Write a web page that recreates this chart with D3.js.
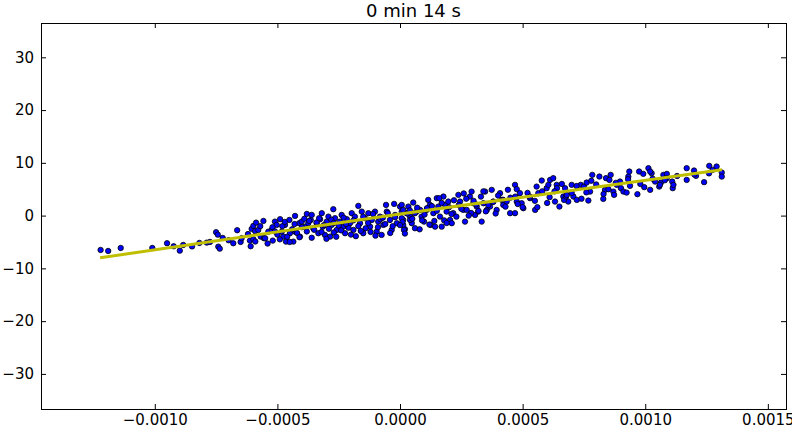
<!DOCTYPE html>
<html><head><meta charset="utf-8">
<script src="https://cdn.jsdelivr.net/npm/d3@7"></script>
<style>body{margin:0;background:#fff}svg{display:block}text{font-family:"DejaVu Sans",sans-serif}</style>
</head><body><svg id="c" width="792" height="432"></svg>
<script>
const title = "0 min 14 s";
const xTicks = [-0.0010, -0.0005, 0.0000, 0.0005, 0.0010, 0.0015];
const yTicks = [-30, -20, -10, 0, 10, 20, 30];
const lineX = [-0.001223, 0.000000, 0.001313];
const lineY = [-8.0, 0.3, 8.7];
const xs = [
-0.001221,-0.001190,-0.001139,-0.001010,-0.000950,-0.000923,-0.000898,-0.000884,-0.000848,-0.000818,
-0.000788,-0.000775,-0.000750,-0.000743,-0.000741,-0.000735,-0.000723,-0.000699,-0.000680,-0.000664,
-0.000650,-0.000646,-0.000612,-0.000609,-0.000605,-0.000598,-0.000587,-0.000591,-0.000578,-0.000598,
-0.000568,-0.000557,-0.000555,-0.000537,-0.000523,-0.000519,-0.000510,-0.000503,-0.000489,-0.000482,
-0.000476,-0.000469,-0.000465,-0.000451,-0.000449,-0.000435,-0.000428,-0.000428,-0.000411,-0.000408,
-0.000401,-0.000387,-0.000380,-0.000374,-0.000364,-0.000360,-0.000354,-0.000340,-0.000333,-0.000326,
-0.000319,-0.000315,-0.000306,-0.000299,-0.000292,-0.000285,-0.000279,-0.000272,-0.000265,-0.000258,
-0.000245,-0.000238,-0.000231,-0.000224,-0.000217,-0.000204,-0.000197,-0.000190,-0.000184,-0.000170,
-0.000163,-0.000156,-0.000150,-0.000143,-0.000129,-0.000122,-0.000115,-0.000102,-0.000095,-0.000089,
-0.000082,-0.000075,-0.000068,-0.000057,-0.000054,-0.000041,-0.000034,-0.000024,-0.000020,-0.000013,
0.000000,0.000007,0.000013,0.000020,0.000027,0.000034,0.000041,0.000048,0.000054,0.000061,
0.000068,0.000007,0.000013,0.000007,0.000013,0.000016,0.000041,0.000061,0.000082,0.000088,
0.000098,0.000109,0.000115,0.000122,0.000125,0.000136,0.000143,0.000150,0.000156,0.000163,
0.000170,0.000177,0.000184,0.000190,0.000197,0.000204,0.000211,0.000217,0.000238,0.000245,
0.000258,0.000265,0.000272,0.000285,0.000292,0.000299,0.000306,0.000313,0.000319,0.000333,
0.000340,0.000347,0.000354,0.000367,0.000374,0.000380,0.000394,0.000408,0.000415,0.000421,
0.000435,0.000449,0.000469,0.000476,0.000476,0.000469,0.000489,0.000496,0.000503,0.000530,
0.000551,0.000557,0.000564,0.000578,0.000598,0.000605,0.000612,0.000625,0.000632,0.000639,
0.000650,0.000666,0.000673,0.000686,0.000700,0.000707,0.000721,0.000669,0.000677,0.000737,
0.000750,0.000761,0.000768,0.000775,0.000784,0.000813,0.000829,0.000836,0.000840,0.000854,
0.000859,0.000870,0.000873,0.000884,0.000897,0.000901,0.000911,0.000924,0.000931,0.000935,
0.000938,0.000968,0.000975,0.000992,0.000996,0.001013,0.001020,0.001026,0.001040,0.001057,
0.001064,0.001074,0.001088,0.001088,0.001110,0.001112,0.001115,0.001169,0.001169,0.001199,
0.001207,0.001240,0.001261,0.001275,0.001291,0.001312,0.001312,0.001020,0.001060,
-0.00055,-0.00052,-0.00050,-0.00048,-0.00046,-0.00044,-0.00042,-0.00040,-0.00038,-0.00037,
-0.00035,-0.00034,-0.00032,-0.00031,-0.00029,-0.00028,-0.00027,-0.00025,-0.00024,-0.00023,
-0.00021,-0.00020,-0.00019,-0.00017,-0.00016,-0.00015,-0.00013,-0.00012,-0.00011,-0.00009,
-0.00008,-0.00006,-0.00005,-0.00003,-0.00002,0.00001,0.00003,0.00005,0.00007,0.00009,
0.00010,0.00012,0.00013,0.00015,0.00017,0.00018,0.00020,0.00022,0.00023,0.00025,
0.00027,0.00029,0.00031,0.00033,0.00035,0.00038,0.00040,0.00043,0.00045,0.00048,
0.00052,0.00055,0.00058,0.00061,0.00064,0.00068,0.00072,0.00076,0.00080,0.00085,
-0.00062,-0.00059,-0.00057,-0.00054,-0.00051,-0.00049,-0.00047,-0.00045,-0.00043,-0.00041,
-0.00039,-0.00036,-0.00033,-0.00030,-0.00027,-0.00026,-0.00022,-0.00018,-0.00014,-0.00010,
-0.00007,-0.00004,0.00000,0.00002,0.00004,0.00008,0.00011,0.00014,0.00016,0.00019,
0.00021,0.00024,0.00026,0.00028,0.00030,0.00032,0.00034,0.00036,0.00039,0.00042,
0.00044,0.00047,0.00050,0.00053,0.00056,0.00060,0.00063,0.00066,0.00070,0.00074,
0.00078,0.00083,0.00088,0.00093,0.00098,0.00103,0.00108,0.00113,0.00120,0.00126
];
const ys = [
-6.51,-6.70,-6.13,-6.13,-5.24,-5.81,-6.64,-5.56,-5.84,-5.18,
-5.12,-4.99,-3.15,-3.61,-5.88,-6.26,-4.23,-4.67,-5.24,-2.77,
-4.99,-4.29,-4.74,-5.81,-2.52,-1.95,-1.33,-2.96,-2.71,-4.48,
-3.98,-1.01,-4.29,-3.04,-2.71,-4.74,-1.14,-1.76,-0.68,-3.04,
-3.98,-1.76,-4.93,-0.82,-3.34,-4.93,-0.06,-3.04,-1.44,-3.98,
-1.14,-2.09,0.32,-1.44,-0.82,0.13,-2.39,-1.44,-3.34,-0.68,
0.46,-2.09,-3.66,-1.14,-0.19,-3.98,-1.76,1.21,-0.49,-2.71,
-1.14,0.13,-2.09,-3.34,-0.68,-1.44,0.46,-2.71,-0.19,1.84,
-1.44,0.76,-3.34,-0.49,0.46,-2.09,-0.82,0.76,-3.04,-1.14,
-0.19,-3.66,-1.76,2.03,0.76,-0.82,-2.71,2.22,0.13,-1.44,
1.71,0.76,-0.82,-2.58,0.46,1.71,-0.19,-1.44,2.47,-2.39,
0.76,2.03,1.08,-0.49,-1.76,-2.71,-0.82,0.46,1.08,-0.19,
-1.14,1.08,2.98,2.03,-1.76,0.46,-2.09,3.30,1.71,-0.19,
-2.09,3.61,2.03,0.76,2.66,-0.82,-1.44,0.46,3.93,2.66,
1.08,-1.14,1.08,3.61,4.55,2.35,0.13,1.71,0.76,-1.14,
2.35,4.55,1.08,1.71,4.88,2.66,1.08,4.25,2.98,2.03,
2.66,0.46,5.83,5.01,2.66,0.46,4.25,2.35,1.40,3.30,
1.08,5.50,4.25,6.64,5.20,5.83,6.77,7.10,2.66,5.83,
1.71,3.61,5.20,2.66,5.83,3.61,2.98,2.98,3.61,5.83,
5.50,6.26,2.85,4.55,7.72,7.40,3.17,4.88,7.10,6.77,
7.72,4.55,3.93,5.83,6.45,5.20,4.55,4.36,7.40,8.35,
5.64,4.06,8.35,7.91,5.39,8.99,4.88,8.05,6.45,5.50,
6.26,7.72,7.91,7.10,6.45,5.20,5.83,8.99,6.77,8.54,
7.53,6.34,9.43,8.67,9.30,8.16,7.40,8.35,5.83,
-4.3,-2.2,-3.6,-2.0,-4.0,-2.6,-3.3,-2.2,-3.0,-1.0,
-2.7,-1.3,-3.1,-1.8,-2.5,-0.8,-3.2,-1.9,-2.8,-0.4,
-2.3,-3.6,-0.9,-2.0,-2.9,-0.2,-1.4,-3.1,0.3,-2.2,
-0.7,-1.6,0.5,-2.0,-0.3,-1.2,0.4,-0.6,1.5,-0.9,
0.2,-1.7,1.8,0.9,2.4,-0.9,1.6,2.9,-0.2,1.3,
3.2,0.5,2.1,3.6,0.8,2.6,3.8,1.7,3.4,2.2,
4.3,2.8,4.6,3.5,5.2,3.9,5.6,4.4,5.9,5.0,
-3.5,-4.9,-2.0,-5.3,-3.0,-4.5,-1.2,-5.0,-1.6,-4.1,
-0.6,-4.2,-0.5,-4.4,-1.4,-4.0,-1.6,-3.9,-2.4,-3.8,
-0.4,-3.3,-1.8,-3.4,1.0,-2.6,1.4,-1.0,3.3,-1.4,
0.3,2.0,4.2,0.0,2.8,0.9,4.6,2.0,0.4,3.0,
4.9,3.6,1.6,3.6,1.6,2.4,4.6,6.0,4.3,3.2,
6.6,4.1,6.2,6.9,6.0,7.0,6.7,7.5,7.8,8.0
];

const W = 792, H = 432;
const m = {left: 41, top: 23, right: 6, bottom: 23};
const pw = W - m.left - m.right, ph = H - m.top - m.bottom;
const svg = d3.select("#c");
const x = d3.scaleLinear().domain([-0.001464, 0.001574]).range([0, pw]);
const y = d3.scaleLinear().domain([-36.65, 36.5]).range([ph, 0]);
const g = svg.append("g").attr("transform", `translate(${m.left},${m.top})`);

const pts = xs.map((v, i) => [v, ys[i]]);
g.append("g").selectAll("circle").data(pts).join("circle")
  .attr("cx", d => x(d[0])).attr("cy", d => y(d[1])).attr("r", 2.7)
  .attr("fill", "#0000ff").attr("stroke", "#000").attr("stroke-width", 0.8);

const lp = lineX.map((v, i) => [v, lineY[i]]);
g.append("path").datum(lp)
  .attr("d", d3.line().x(d => x(d[0])).y(d => y(d[1])))
  .attr("fill", "none").attr("stroke", "#bfbf00").attr("stroke-width", 3);

const fs = 15;
const ax = (sel) => { sel.select(".domain").remove(); sel.selectAll("line").attr("stroke", "#000"); sel.selectAll("text").attr("font-size", fs).attr("fill", "#000").attr("font-family", "DejaVu Sans"); };
g.append("g").attr("transform", `translate(0,${ph})`)
  .call(d3.axisBottom(x).tickValues(xTicks).tickFormat(d3.format(".4f")).tickSizeInner(-5).tickSizeOuter(0).tickPadding(5)).call(ax);
g.append("g")
  .call(d3.axisTop(x).tickValues(xTicks).tickFormat("").tickSizeInner(-5).tickSizeOuter(0)).call(ax);
g.append("g")
  .call(d3.axisLeft(y).tickValues(yTicks).tickFormat(d3.format("d")).tickSizeInner(-5).tickSizeOuter(0).tickPadding(7)).call(ax);
g.append("g").attr("transform", `translate(${pw},0)`)
  .call(d3.axisRight(y).tickValues(yTicks).tickFormat("").tickSizeInner(-5).tickSizeOuter(0)).call(ax);

g.append("rect").attr("x", 0.5).attr("y", 0.5).attr("width", pw).attr("height", ph)
  .attr("fill", "none").attr("stroke", "#000").attr("stroke-width", 1);

svg.append("text").attr("x", m.left + pw / 2).attr("y", 17).attr("text-anchor", "middle")
  .attr("font-size", 18).attr("fill", "#000").text(title);
</script></body></html>
